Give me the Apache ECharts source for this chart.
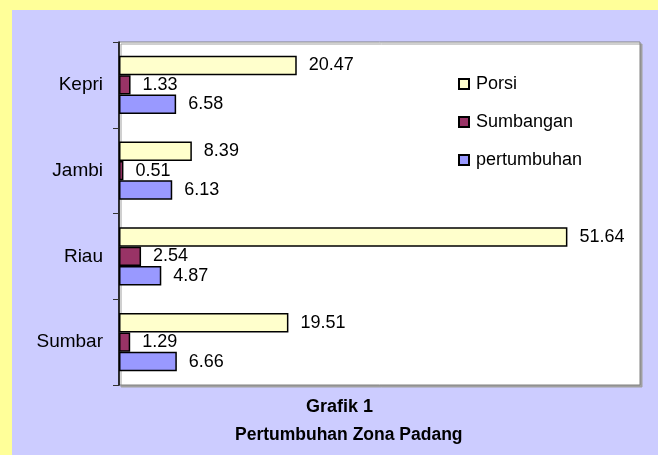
<!DOCTYPE html>
<html>
<head>
<meta charset="utf-8">
<script src="https://cdn.jsdelivr.net/npm/echarts@6/dist/echarts.min.js"></script>
<style>
  html, body { margin: 0; padding: 0; background: #ffff99; }
  #chart { width: 658px; height: 455px; }
</style>
</head>
<body>
<div id="chart"></div>
<script>
// data
const categories = ['Sumbar', 'Riau', 'Jambi', 'Kepri']
const porsi = [19.51, 51.64, 8.39, 20.47]
const sumbangan = [1.29, 2.54, 0.51, 1.33]
const pertumbuhan = [6.66, 4.87, 6.13, 6.58]
const titleLines = ['Grafik 1', 'Pertumbuhan Zona Padang']

const font = 'Liberation Sans, Arial, sans-serif'

const chart = echarts.init(document.getElementById('chart'))

function barSeries(name, data, color) {
  return {
    name: name,
    type: 'bar',
    data: data,
    barGap: '0%',
    barCategoryGap: '32%',
    itemStyle: { color: color, borderColor: '#000', borderWidth: 1.5 },
    label: {
      show: true,
      position: 'right',
      distance: 12,
      color: '#000',
      fontFamily: font,
      fontSize: 18,
      formatter: (p) => p.value.toFixed(2),
    },
  }
}

chart.setOption({
  backgroundColor: '#ffff99',
  animation: false,
  graphic: [
    {
      type: 'rect',
      z: -10,
      shape: { x: 12, y: 10, width: 646, height: 445 },
      style: { fill: '#ccccff' },
    },
    {
      type: 'text',
      left: 306,
      top: 398,
      style: { text: titleLines[0], font: 'bold 18px ' + font, fill: '#000' },
    },
    {
      type: 'text',
      left: 235,
      top: 426,
      style: { text: titleLines[1], font: 'bold 17.5px ' + font, fill: '#000' },
    },
  ],
  grid: {
    left: 119,
    right: 18,
    top: 42,
    bottom: 70,
    show: true,
    backgroundColor: '#fff',
    borderColor: '#808080',
    borderWidth: 1,
    shadowColor: '#a0a0a0',
    shadowOffsetX: 2,
    shadowOffsetY: 2,
    shadowBlur: 0,
  },
  legend: {
    orient: 'vertical',
    left: 453,
    top: 70,
    itemWidth: 10,
    itemHeight: 10,
    itemGap: 20,
    icon: 'rect',
    textStyle: { fontFamily: font, fontSize: 18, color: '#000', padding: [0, 0, 0, 2] },
    data: ['Porsi', 'Sumbangan', 'pertumbuhan'],
  },
  xAxis: {
    type: 'value',
    min: 0,
    max: 60,
    show: false,
  },
  yAxis: {
    type: 'category',
    data: categories,
    axisLine: { show: true, lineStyle: { color: '#000', width: 1.5 } },
    axisTick: { show: true, inside: false, length: 6, lineStyle: { color: '#333', width: 1 } },
    axisLabel: { margin: 16, color: '#000', fontFamily: font, fontSize: 19 },
  },
  series: [
    barSeries('Porsi', porsi, '#ffffcc'),
    barSeries('Sumbangan', sumbangan, '#993366'),
    barSeries('pertumbuhan', pertumbuhan, '#9999ff'),
  ],
})
</script>
</body>
</html>
